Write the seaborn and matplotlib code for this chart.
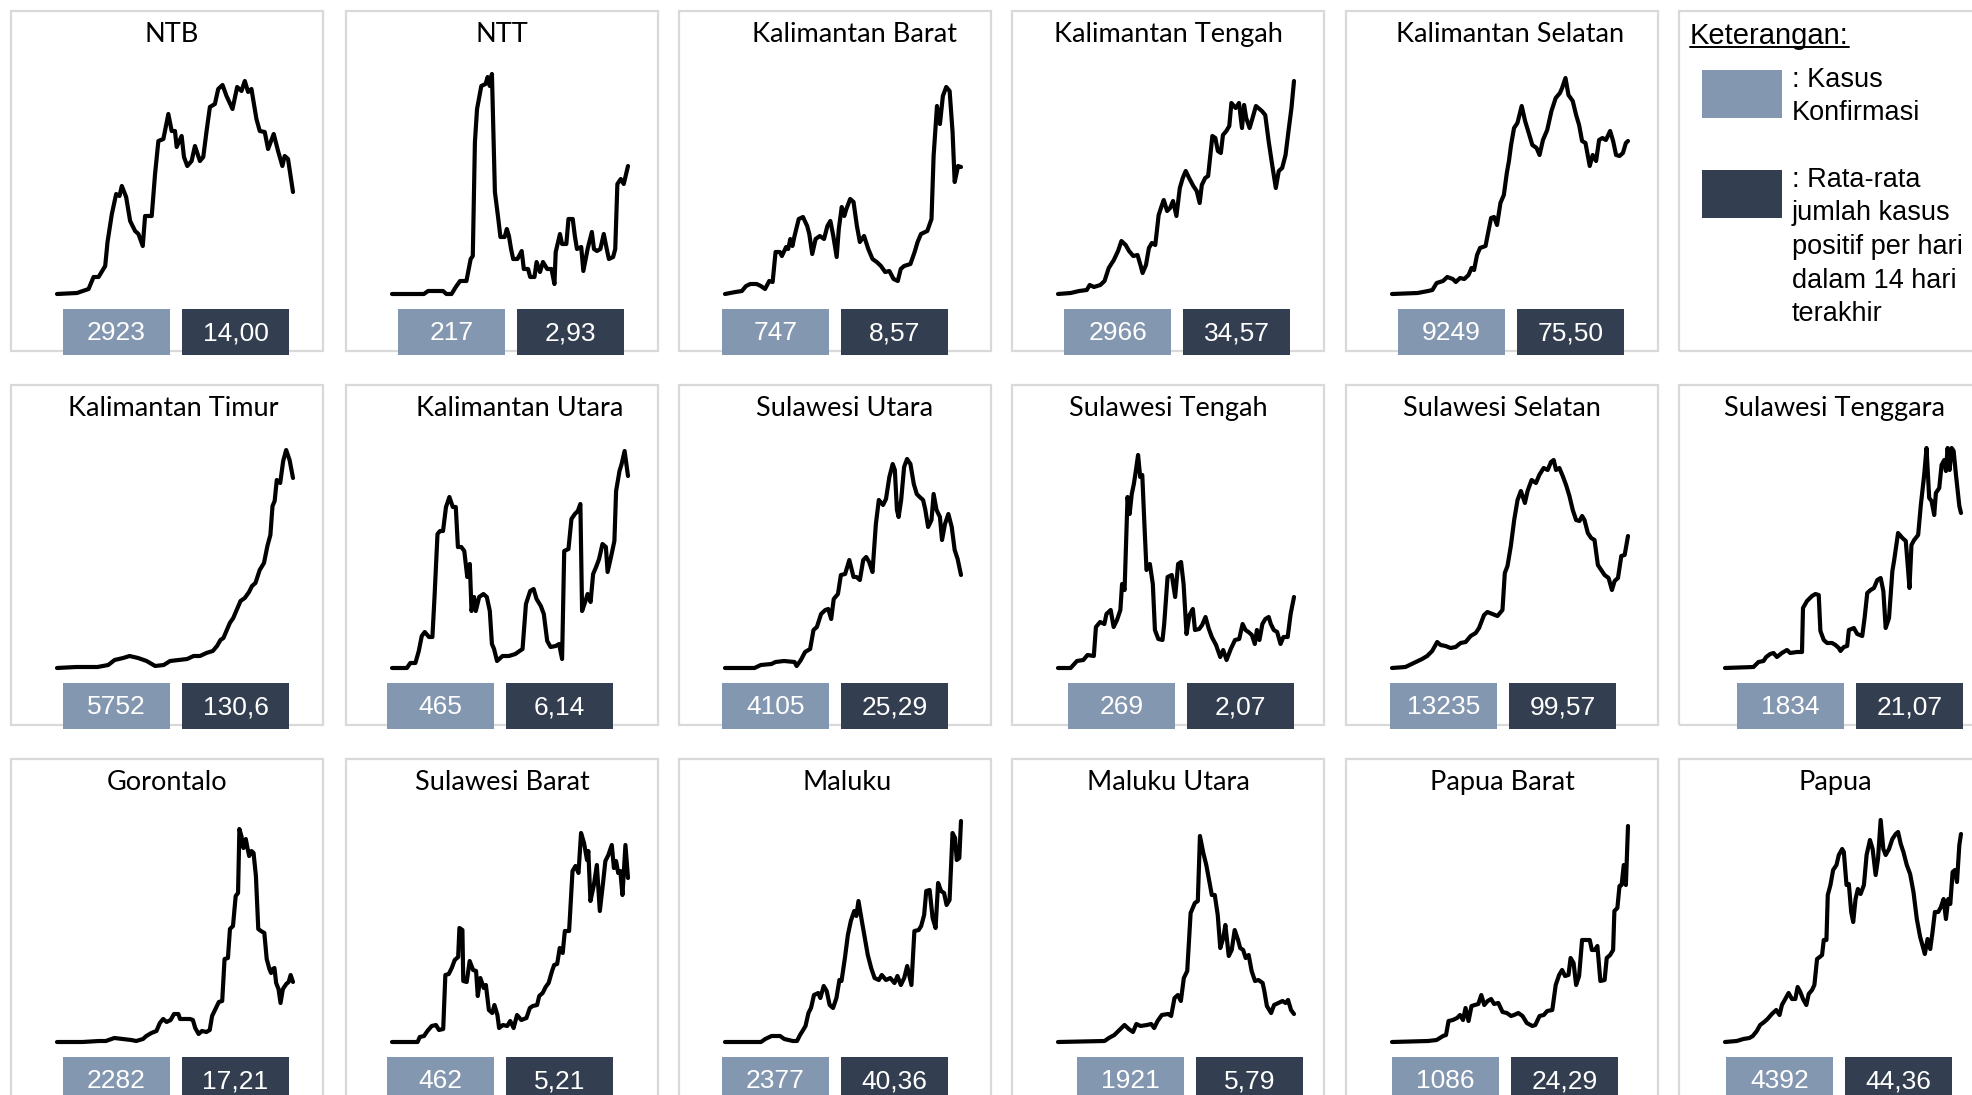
import matplotlib
matplotlib.use('Agg')
import matplotlib.pyplot as plt
from matplotlib.patches import Rectangle
from matplotlib.lines import Line2D
import seaborn as sns
import pandas as pd

# ---- data (t = time position, v = height of the curve) ----
provinces = ['NTB', 'NTT', 'Kalimantan Barat', 'Kalimantan Tengah', 'Kalimantan Selatan',
             'Kalimantan Timur', 'Kalimantan Utara', 'Sulawesi Utara', 'Sulawesi Tengah',
             'Sulawesi Selatan', 'Sulawesi Tenggara', 'Gorontalo', 'Sulawesi Barat',
             'Maluku', 'Maluku Utara', 'Papua Barat', 'Papua']
confirmed = ['2923', '217', '747', '2966', '9249', '5752', '465', '4105', '269',
             '13235', '1834', '2282', '462', '2377', '1921', '1086', '4392']
avg14 = ['14,00', '2,93', '8,57', '34,57', '75,50', '130,6', '6,14', '25,29', '2,07',
         '99,57', '21,07', '17,21', '5,21', '40,36', '5,79', '24,29', '44,36']

ntb = [(170, 0), (230, 1), (265, 5), (280, 17), (295, 17), (315, 28), (322, 52), (335, 80), (348, 100),
       (358, 98), (365, 108), (378, 97), (390, 73), (405, 63), (415, 60), (428, 48), (435, 78), (455, 78),
       (465, 120), (475, 153), (490, 155), (505, 180), (515, 163), (525, 163), (530, 147), (545, 158),
       (552, 137), (562, 128), (575, 133), (585, 148), (600, 133), (610, 137), (620, 163), (630, 187),
       (645, 190), (655, 205), (668, 209), (680, 198), (698, 185), (712, 207), (725, 203), (735, 213),
       (745, 202), (755, 205), (770, 175), (780, 163), (795, 162), (805, 145), (822, 160), (835, 143),
       (848, 128), (855, 138), (865, 135), (880, 102)]
ntt = [(130, 0), (205, 0), (215, 3), (250, 3), (258, 0), (270, 0), (280, 7), (290, 13), (305, 13),
       (315, 35), (320, 38), (325, 152), (330, 185), (340, 208), (350, 210), (355, 217), (360, 208),
       (365, 220), (372, 102), (380, 75), (385, 57), (395, 57), (400, 65), (405, 58), (410, 45), (415, 35),
       (425, 35), (435, 43), (440, 25), (450, 25), (455, 17), (465, 17), (470, 32), (478, 22), (485, 32),
       (495, 25), (505, 25), (512, 10), (515, 42), (525, 60), (530, 50), (540, 50), (545, 75), (555, 75),
       (560, 58), (565, 45), (575, 47), (580, 23), (590, 45), (600, 62), (605, 45), (612, 43), (620, 45),
       (628, 60), (635, 45), (640, 35), (650, 37), (655, 45), (660, 110), (668, 115), (675, 110), (685, 128)]
kalbar = [(915, 0), (940, 2), (955, 3), (965, 8), (975, 10), (990, 10), (1000, 8), (1010, 5), (1020, 13),
          (1028, 12), (1035, 42), (1045, 42), (1050, 38), (1060, 47), (1065, 45), (1070, 55), (1075, 48),
          (1080, 58), (1090, 75), (1100, 77), (1110, 68), (1115, 60), (1122, 40), (1130, 55), (1140, 58),
          (1150, 55), (1158, 68), (1165, 73), (1172, 58), (1180, 37), (1185, 65), (1192, 87), (1198, 78),
          (1203, 85), (1212, 95), (1220, 92), (1228, 68), (1235, 52), (1245, 58), (1255, 45), (1265, 35),
          (1275, 32), (1285, 28), (1295, 22), (1305, 23), (1315, 15), (1325, 13), (1332, 25), (1340, 28),
          (1355, 30), (1365, 42), (1372, 52), (1380, 60), (1395, 63), (1405, 75), (1410, 138), (1418, 188),
          (1425, 170), (1432, 198), (1440, 207), (1448, 203), (1455, 162), (1460, 112), (1468, 128), (1475, 127)]
kalteng = [(130, 0), (160, 1), (180, 3), (198, 4), (205, 9), (215, 7), (230, 9), (240, 13), (250, 26),
           (262, 34), (272, 43), (280, 53), (290, 49), (298, 43), (308, 38), (318, 39), (325, 29), (330, 21),
           (338, 29), (345, 46), (352, 51), (360, 49), (368, 79), (375, 88), (380, 94), (388, 83), (395, 86),
           (402, 93), (410, 78), (418, 106), (425, 116), (432, 123), (440, 116), (450, 108), (458, 103),
           (465, 91), (470, 109), (478, 116), (485, 118), (495, 158), (502, 156), (508, 143), (515, 141),
           (520, 159), (528, 163), (535, 168), (540, 191), (550, 186), (558, 191), (565, 166), (570, 189),
           (575, 176), (583, 166), (590, 176), (598, 188), (612, 183), (620, 179), (628, 153), (635, 133),
           (645, 106), (652, 123), (660, 126), (668, 139), (675, 163), (682, 186), (688, 213)]
kalsel = [(925, 0), (985, 1), (1010, 3), (1020, 4), (1030, 11), (1045, 13), (1055, 17), (1068, 15),
          (1075, 12), (1085, 16), (1095, 15), (1105, 19), (1112, 26), (1118, 24), (1125, 39), (1132, 46),
          (1145, 48), (1150, 59), (1158, 76), (1165, 77), (1172, 69), (1180, 91), (1188, 99), (1195, 121),
          (1200, 133), (1205, 149), (1212, 166), (1220, 171), (1230, 188), (1238, 173), (1248, 159),
          (1255, 149), (1265, 146), (1272, 139), (1280, 154), (1290, 164), (1300, 183), (1310, 196),
          (1320, 201), (1325, 206), (1333, 216), (1340, 199), (1350, 193), (1358, 179), (1365, 169),
          (1372, 153), (1380, 151), (1390, 128), (1397, 139), (1405, 133), (1412, 154), (1420, 156),
          (1428, 154), (1438, 163), (1445, 153), (1452, 139), (1460, 138), (1468, 141), (1475, 151), (1480, 153)]
kaltim = [(135, 0), (180, 1), (230, 1), (255, 3), (270, 8), (290, 10), (305, 12), (325, 10), (345, 7),
          (365, 2), (385, 3), (400, 7), (420, 8), (440, 9), (455, 12), (470, 12), (485, 15), (500, 17),
          (510, 22), (518, 28), (525, 30), (532, 37), (540, 45), (548, 50), (558, 60), (565, 67), (575, 70),
          (585, 76), (592, 82), (600, 85), (610, 98), (620, 105), (628, 122), (635, 133), (640, 162),
          (645, 167), (650, 188), (658, 185), (665, 207), (672, 218), (680, 208), (688, 190)]
kaltara = [(925, 0), (960, 0), (968, 5), (980, 5), (988, 17), (995, 32), (1002, 36), (1012, 31), (1020, 31),
           (1025, 71), (1032, 134), (1038, 137), (1045, 137), (1052, 161), (1060, 171), (1068, 161),
           (1075, 161), (1080, 121), (1088, 121), (1095, 117), (1102, 91), (1108, 104), (1112, 57), (1118, 71),
           (1122, 57), (1130, 71), (1140, 74), (1148, 71), (1155, 57), (1160, 24), (1165, 19), (1172, 7),
           (1185, 12), (1200, 12), (1215, 14), (1225, 17), (1232, 19), (1240, 64), (1250, 77), (1258, 79),
           (1265, 69), (1275, 62), (1282, 54), (1290, 27), (1298, 21), (1310, 22), (1318, 24), (1325, 9),
           (1330, 117), (1340, 119), (1347, 149), (1355, 154), (1362, 157), (1368, 164), (1372, 57),
           (1380, 67), (1385, 74), (1392, 66), (1398, 94), (1405, 101), (1412, 109), (1420, 124), (1428, 121),
           (1432, 96), (1440, 111), (1448, 127), (1452, 177), (1460, 197), (1465, 204), (1472, 217), (1480, 192)]
sulut = [(130, 0), (200, 0), (215, 3), (240, 4), (250, 6), (270, 7), (295, 6), (300, 2), (310, 8), (320, 16),
         (332, 19), (340, 38), (348, 41), (358, 54), (368, 58), (375, 59), (382, 49), (388, 69), (398, 74),
         (405, 93), (415, 94), (425, 108), (435, 91), (442, 91), (450, 88), (458, 108), (465, 111), (472, 106),
         (480, 96), (488, 144), (495, 168), (505, 163), (512, 169), (520, 191), (528, 204), (533, 198),
         (538, 158), (542, 151), (548, 168), (555, 201), (562, 209), (570, 204), (578, 184), (585, 174),
         (592, 171), (600, 168), (605, 159), (612, 141), (620, 148), (625, 174), (632, 158), (640, 151),
         (645, 128), (652, 144), (660, 154), (668, 141), (675, 118), (682, 109), (690, 93)]
sulteng = [(920, 0), (950, 0), (965, 7), (980, 8), (990, 13), (1005, 12), (1010, 41), (1020, 46), (1030, 44),
           (1035, 54), (1045, 58), (1052, 41), (1060, 48), (1068, 58), (1072, 84), (1078, 78), (1085, 171),
           (1090, 154), (1095, 174), (1100, 184), (1105, 198), (1110, 213), (1115, 191), (1120, 193),
           (1125, 144), (1130, 98), (1138, 104), (1145, 84), (1150, 38), (1158, 29), (1168, 28), (1172, 44),
           (1180, 91), (1190, 93), (1198, 71), (1205, 104), (1212, 106), (1218, 84), (1225, 34), (1232, 53),
           (1240, 59), (1245, 38), (1255, 39), (1262, 43), (1270, 51), (1278, 39), (1285, 31), (1295, 23),
           (1305, 11), (1312, 18), (1320, 8), (1330, 19), (1340, 28), (1350, 29), (1358, 44), (1365, 38),
           (1372, 36), (1380, 33), (1387, 24), (1392, 38), (1398, 28), (1405, 44), (1412, 49), (1420, 51),
           (1425, 44), (1432, 38), (1440, 36), (1448, 24), (1455, 31), (1465, 31), (1472, 54), (1480, 71)]
sulsel = [(215, 0), (255, 1), (280, 5), (305, 9), (320, 12), (335, 17), (350, 26), (360, 23), (375, 22),
          (390, 20), (405, 21), (420, 25), (435, 26), (450, 32), (465, 35), (475, 40), (490, 53), (500, 56),
          (515, 54), (530, 52), (545, 58), (552, 95), (560, 102), (570, 122), (580, 148), (590, 168),
          (600, 177), (612, 165), (620, 177), (632, 188), (645, 185), (655, 193), (668, 200), (680, 198),
          (690, 206), (698, 208), (705, 198), (715, 200), (725, 192), (735, 183), (745, 172), (755, 158),
          (765, 148), (775, 147), (783, 152), (790, 148), (800, 135), (810, 130), (820, 128), (830, 103),
          (840, 98), (850, 93), (862, 90), (872, 78), (880, 87), (890, 90), (900, 112), (910, 113), (920, 132)]
sultra = [(195, 0), (280, 1), (295, 6), (310, 7), (318, 11), (330, 14), (340, 15), (350, 11), (365, 15),
          (380, 18), (390, 15), (410, 16), (425, 16), (428, 60), (440, 67), (455, 72), (465, 74), (475, 73),
          (480, 37), (490, 28), (500, 25), (515, 25), (525, 23), (535, 20), (540, 17), (550, 21), (560, 22),
          (565, 38), (580, 40), (590, 34), (605, 32), (612, 50), (620, 75), (630, 78), (640, 80), (650, 88),
          (660, 90), (668, 77), (675, 40), (685, 50), (695, 97), (700, 107), (712, 135), (725, 130),
          (735, 127), (742, 98), (746, 80), (752, 123), (760, 128), (772, 133), (780, 163), (790, 193),
          (797, 220), (805, 170), (812, 167), (820, 153), (825, 175), (835, 180), (842, 203), (850, 208),
          (855, 197), (860, 220), (866, 198), (872, 220), (878, 217), (885, 193), (895, 162), (900, 155)]
gorontalo = [(175, 0), (250, 0), (300, 1), (320, 1), (345, 4), (370, 3), (395, 2), (410, 1), (430, 3),
             (440, 6), (455, 9), (470, 11), (480, 19), (490, 23), (500, 20), (512, 22), (522, 28), (535, 28),
             (540, 23), (555, 23), (570, 23), (578, 22), (585, 14), (595, 8), (605, 11), (618, 10), (628, 12),
             (635, 26), (645, 33), (655, 40), (665, 41), (672, 83), (682, 84), (688, 113), (697, 116),
             (705, 146), (712, 149), (716, 213), (722, 206), (728, 194), (735, 203), (740, 194), (745, 186),
             (752, 191), (758, 189), (765, 166), (772, 113), (780, 111), (790, 109), (797, 83), (805, 73),
             (810, 69), (815, 73), (820, 74), (825, 59), (832, 53), (838, 39), (845, 53), (855, 58), (862, 60),
             (868, 67), (875, 60)]
sulbar = [(125, 0), (185, 0), (190, 5), (200, 6), (208, 11), (218, 16), (228, 17), (235, 12), (245, 13),
          (250, 67), (258, 68), (265, 74), (272, 82), (280, 85), (283, 114), (290, 112), (292, 61), (300, 60),
          (307, 81), (315, 72), (322, 71), (326, 46), (332, 64), (340, 54), (345, 57), (352, 32), (360, 29),
          (365, 37), (372, 27), (376, 14), (385, 17), (395, 16), (402, 21), (410, 14), (418, 27), (428, 22),
          (440, 24), (448, 34), (455, 36), (465, 37), (470, 46), (478, 49), (485, 55), (492, 59), (500, 71),
          (505, 77), (512, 78), (518, 94), (525, 89), (530, 111), (540, 111), (548, 171), (555, 176),
          (562, 169), (568, 209), (575, 199), (582, 182), (585, 191), (590, 141), (598, 157), (605, 177),
          (612, 131), (620, 161), (625, 181), (632, 187), (640, 197), (645, 174), (650, 181), (655, 169),
          (660, 171), (665, 147), (672, 197), (678, 164)]
maluku = [(915, 0), (1000, 0), (1010, 3), (1025, 6), (1045, 6), (1055, 3), (1075, 1), (1085, 1), (1092, 7),
          (1098, 11), (1105, 16), (1112, 29), (1118, 34), (1125, 47), (1135, 49), (1140, 44), (1148, 56),
          (1155, 51), (1162, 37), (1170, 34), (1178, 44), (1185, 62), (1190, 61), (1198, 84), (1205, 107),
          (1212, 121), (1220, 131), (1225, 126), (1230, 141), (1238, 121), (1245, 104), (1252, 87),
          (1260, 74), (1268, 64), (1278, 62), (1285, 67), (1295, 62), (1305, 64), (1315, 59), (1322, 66),
          (1330, 57), (1338, 64), (1345, 76), (1355, 57), (1362, 111), (1372, 112), (1378, 116), (1385, 127),
          (1390, 151), (1398, 152), (1405, 124), (1412, 114), (1418, 159), (1425, 151), (1432, 149),
          (1438, 137), (1445, 142), (1452, 209), (1458, 204), (1462, 182), (1468, 184), (1472, 221)]
malut = [(135, 0), (245, 1), (255, 4), (268, 7), (280, 12), (292, 17), (302, 13), (312, 10), (320, 18),
         (330, 16), (345, 17), (355, 18), (362, 14), (370, 21), (380, 27), (395, 28), (402, 26), (410, 44),
         (418, 47), (425, 41), (432, 64), (440, 71), (448, 129), (458, 139), (465, 141), (470, 206), (478, 189),
         (485, 177), (492, 161), (498, 147), (505, 147), (512, 127), (518, 94), (525, 104), (530, 117),
         (538, 86), (545, 92), (552, 112), (560, 102), (565, 94), (572, 92), (578, 84), (585, 87), (592, 71),
         (600, 61), (608, 62), (618, 59), (622, 51), (628, 36), (638, 29), (645, 37), (655, 39), (665, 41),
         (672, 39), (678, 42), (685, 32), (692, 28)]
pabar = [(925, 0), (1010, 1), (1030, 2), (1045, 6), (1052, 7), (1058, 21), (1068, 22), (1078, 24), (1085, 27),
         (1092, 22), (1098, 34), (1105, 21), (1112, 36), (1120, 37), (1128, 38), (1135, 47), (1142, 37),
         (1150, 41), (1158, 43), (1165, 38), (1175, 39), (1185, 30), (1195, 29), (1205, 26), (1212, 27),
         (1222, 29), (1232, 26), (1242, 19), (1255, 16), (1262, 17), (1272, 26), (1282, 27), (1290, 31),
         (1302, 32), (1310, 57), (1318, 67), (1325, 72), (1332, 66), (1340, 67), (1345, 84), (1352, 79),
         (1358, 57), (1365, 66), (1372, 102), (1380, 102), (1390, 102), (1395, 92), (1402, 92), (1408, 96),
         (1415, 61), (1425, 62), (1430, 84), (1438, 87), (1445, 92), (1448, 131), (1455, 134), (1460, 156),
         (1465, 157), (1470, 177), (1475, 157), (1480, 216)]
papua = [(195, 0), (230, 1), (250, 3), (268, 4), (278, 6), (290, 11), (300, 17), (312, 20), (322, 23),
         (335, 28), (348, 32), (358, 27), (365, 37), (375, 43), (385, 49), (395, 43), (405, 43), (412, 55),
         (420, 50), (428, 43), (438, 37), (445, 48), (455, 52), (462, 57), (470, 83), (478, 85), (485, 87),
         (490, 102), (498, 102), (502, 147), (510, 157), (518, 172), (528, 177), (535, 187), (545, 193),
         (550, 190), (558, 157), (565, 158), (572, 130), (578, 120), (585, 143), (592, 153), (600, 148),
         (610, 157), (618, 187), (628, 202), (636, 193), (645, 167), (652, 183), (660, 222), (668, 193),
         (675, 187), (685, 193), (695, 203), (705, 208), (712, 210), (720, 198), (728, 190), (738, 177),
         (748, 168), (758, 150), (768, 123), (778, 105), (788, 93), (792, 88), (800, 103), (808, 93),
         (815, 110), (822, 130), (832, 130), (840, 135), (848, 143), (855, 123), (862, 143), (868, 138),
         (875, 170), (882, 172), (888, 160), (895, 197), (900, 208)]

series = [ntb, ntt, kalbar, kalteng, kalsel, kaltim, kaltara, sulut, sulteng, sulsel, sultra,
          gorontalo, sulbar, maluku, malut, pabar, papua]

legend_lines_1 = [': Kasus', 'Konfirmasi']
legend_lines_2 = [': Rata-rata', 'jumlah kasus', 'positif per hari', 'dalam 14 hari', 'terakhir']

LIGHT = '#8497B0'
DARK = '#333F50'
BORDER = '#D9D9D9'

W, H = 1972, 1095


def fx(x):
    return x / W


def fy(y):
    return 1 - y / H


def add_rect(fig, x, y, w, h, **kw):
    fig.add_artist(Rectangle((fx(x), fy(y + h)), w / W, h / H, transform=fig.transFigure, **kw))


def main():
    sns.set_theme(style='white')
    plt.rcParams['font.family'] = ['Liberation Sans', 'DejaVu Sans']

    fig = plt.figure(figsize=(W / 100, H / 100), dpi=100)
    fig.patch.set_facecolor('white')

    col_left = [11, 346, 679, 1012, 1346, 1679]
    row_top = [11, 385, 759]
    pw, ph = 312, 340
    slots = [(0, c) for c in range(5)] + [(1, c) for c in range(6)] + [(2, c) for c in range(6)]
    title_nudge = {'NTB': 5, 'Kalimantan Barat': 20, 'Kalimantan Utara': 18, 'Sulawesi Utara': 10,
                   'Maluku': 12, 'Kalimantan Timur': 6, 'Kalimantan Selatan': 8}
    box_nudge = {'Kalimantan Barat': -9, 'Kalimantan Utara': -11, 'Sulawesi Utara': -9,
                 'Sulawesi Tengah': 4, 'Sulawesi Selatan': -8, 'Sulawesi Tenggara': 6,
                 'Sulawesi Barat': -11, 'Maluku': -9, 'Maluku Utara': 13, 'Papua Barat': -6,
                 'Papua': -5}

    for name, conf, avg, pts, (r, c) in zip(provinces, confirmed, avg14, series, slots):
        left, top = col_left[c], row_top[r]
        add_rect(fig, left, top, pw, ph, fill=False, edgecolor=BORDER, linewidth=1.6)

        df = pd.DataFrame(pts, columns=['t', 'v'])
        ax = fig.add_axes([fx(left + 46), fy(top + 283), 236 / W, 220 / H])
        sns.lineplot(data=df, x='t', y='v', ax=ax, color='black', linewidth=3.0,
                     estimator=None, sort=False)
        for ln in ax.lines:
            ln.set_clip_on(False)
            ln.set_solid_joinstyle('round')
        ax.set_xlim(df['t'].min(), df['t'].max())
        ax.set_ylim(0, 220)
        ax.axis('off')

        fig.text(fx(left + pw / 2 + title_nudge.get(name, 0)), fy(top + 31), name,
                 ha='center', va='baseline', fontsize=19.5, family=['Lato', 'DejaVu Sans'],
                 color='black')

        bx = left + 52 + box_nudge.get(name, 0)
        add_rect(fig, bx, top + 298, 107, 46, facecolor=LIGHT, edgecolor='none')
        add_rect(fig, bx + 119, top + 298, 107, 46, facecolor=DARK, edgecolor='none')
        fig.text(fx(bx + 53.5), fy(top + 329), conf, ha='center', va='baseline',
                 fontsize=19, color='white')
        fig.text(fx(bx + 119 + 53.5), fy(top + 329), avg, ha='center', va='baseline',
                 fontsize=19, color='white')

    # legend panel
    lx, ly = col_left[5], row_top[0]
    add_rect(fig, lx, ly, pw, ph, fill=False, edgecolor=BORDER, linewidth=1.6)
    head = fig.text(fx(lx + 11), fy(ly + 33), 'Keterangan:', ha='left', va='baseline',
                    fontsize=21, color='black')
    fig.canvas.draw()
    bb = head.get_window_extent(fig.canvas.get_renderer())
    fig.add_artist(Line2D([bb.x0 / W, bb.x1 / W], [fy(ly + 36)] * 2,
                          transform=fig.transFigure, color='black', linewidth=1.4))

    add_rect(fig, lx + 23, ly + 59, 80, 48, facecolor=LIGHT, edgecolor='none')
    add_rect(fig, lx + 23, ly + 159, 80, 48, facecolor=DARK, edgecolor='none')
    for i, txt in enumerate(legend_lines_1):
        fig.text(fx(lx + 113), fy(ly + 76 + i * 33), txt, ha='left', va='baseline',
                 fontsize=19.5, color='black')
    for i, txt in enumerate(legend_lines_2):
        fig.text(fx(lx + 113), fy(ly + 176 + i * 33.5), txt, ha='left', va='baseline',
                 fontsize=19.5, color='black')

    fig.savefig('out.png', dpi=100, facecolor='white')
    plt.close(fig)


if __name__ == '__main__':
    main()
